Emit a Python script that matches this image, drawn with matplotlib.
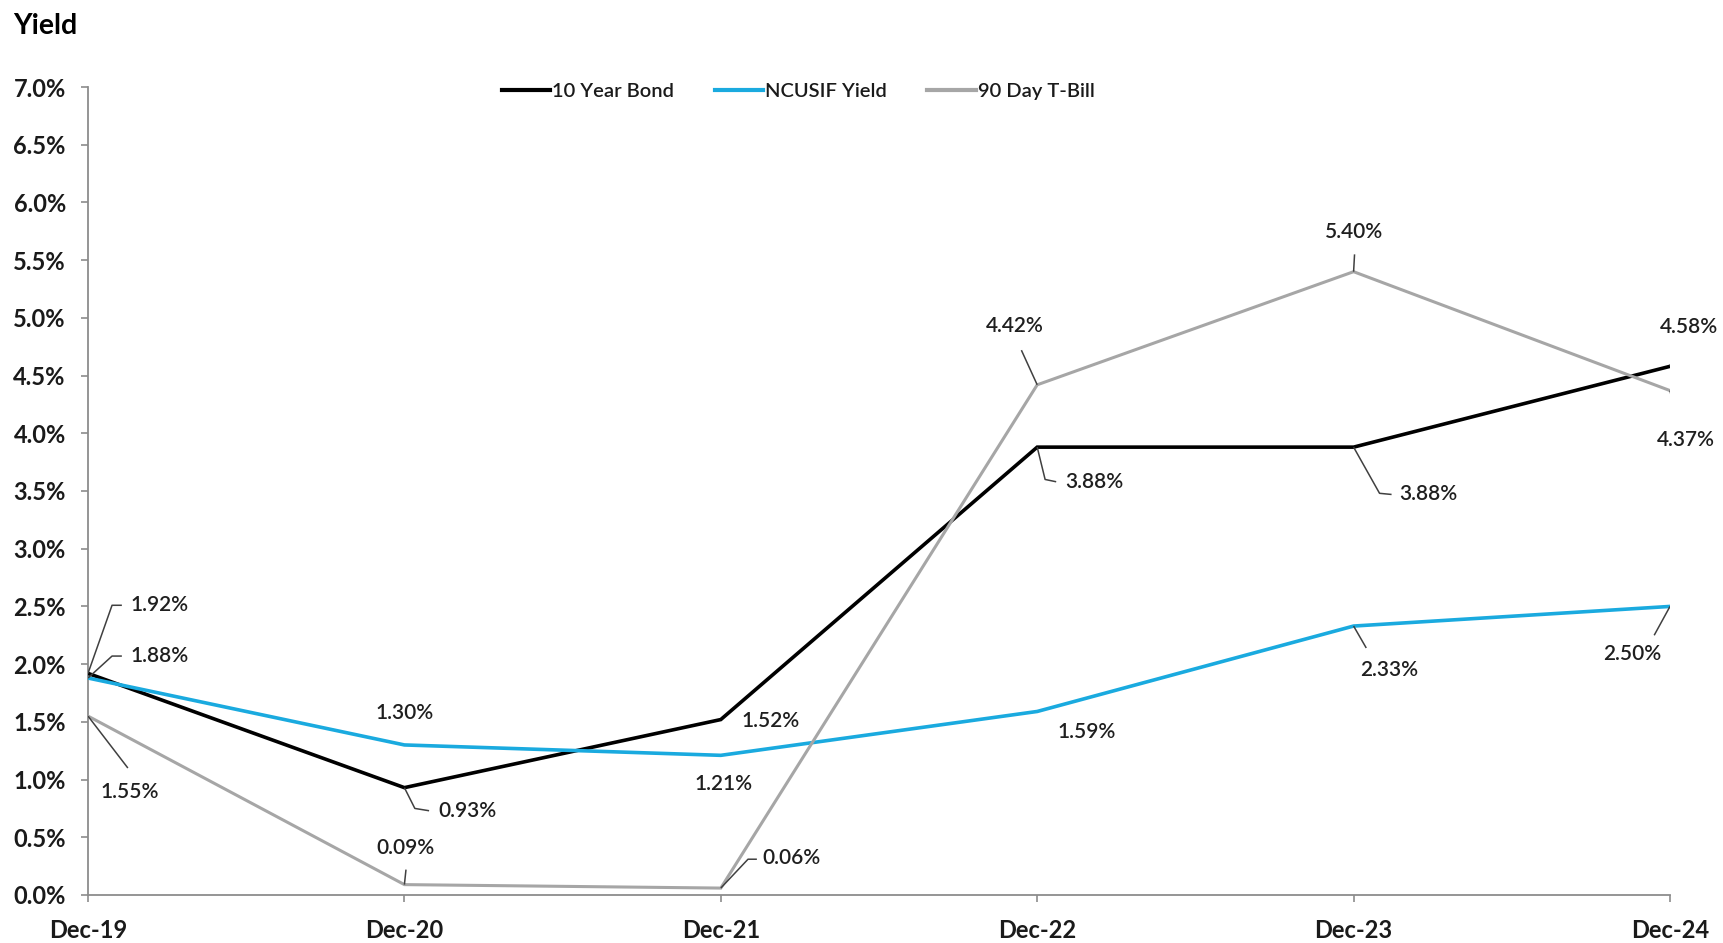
import matplotlib
matplotlib.use("Agg")
import matplotlib.pyplot as plt
from matplotlib.ticker import FuncFormatter, MultipleLocator

plt.rcParams['font.family'] = ['Lato', 'DejaVu Sans']

# ---- data ----
categories = ["Dec-19", "Dec-20", "Dec-21", "Dec-22", "Dec-23", "Dec-24"]
bond_10y = [1.92, 0.93, 1.52, 3.88, 3.88, 4.58]
ncusif = [1.88, 1.30, 1.21, 1.59, 2.33, 2.50]
tbill_90d = [1.55, 0.09, 0.06, 4.42, 5.40, 4.37]
series_names = ["10 Year Bond", "NCUSIF Yield", "90 Day T-Bill"]

# ---- styles ----
colors = ["#000000", "#1AAADF", "#A6A6A6"]
widths = [2.6, 2.6, 2.2]

# label layout per series/point: (text_x_offset, text_y, ha, leader) in data units
# leader: None, or list of knee points given as offsets (dx, y)
layout = [
    [  # 10 Year Bond
        (0.133, 2.51, "left", [(0.076, 2.51), (0.107, 2.51)]),
        (0.108, 0.73, "left", [(0.033, 0.75), (0.078, 0.73)]),
        (0.065, 1.51, "left", None),
        (0.090, 3.58, "left", [(0.025, 3.60), (0.060, 3.58)]),
        (0.145, 3.47, "left", [(0.082, 3.48), (0.120, 3.47)]),
        (0.060, 4.92, "center", [(0.020, 4.75)]),
    ],
    [  # NCUSIF
        (0.133, 2.07, "left", [(0.076, 2.07), (0.107, 2.07)]),
        (0.002, 1.58, "center", None),
        (0.010, 0.96, "center", None),
        (0.157, 1.415, "center", None),
        (0.113, 1.95, "center", [(0.040, 2.14)]),
        (-0.120, 2.09, "center", [(-0.050, 2.25)]),
    ],
    [  # 90 Day T-Bill
        (0.133, 0.89, "center", [(0.126, 1.10)]),
        (0.002, 0.41, "center", [(0.005, 0.22)]),
        (0.131, 0.32, "left", [(0.086, 0.31), (0.114, 0.31)]),
        (-0.070, 4.93, "center", [(-0.050, 4.72)]),
        (0.000, 5.74, "center", [(0.003, 5.55)]),
        (0.050, 3.94, "center", [(0.020, 4.13)]),
    ],
]

W, H = 1723, 943
fig = plt.figure(figsize=(W / 100, H / 100), dpi=100)
left, right, bottom, top = 88 / W, 1670 / W, 1 - 895 / H, 1 - 87 / H
ax = fig.add_axes([left, bottom, right - left, top - bottom])

x = list(range(len(categories)))
all_series = [bond_10y, ncusif, tbill_90d]
for vals, name, c, lw in zip(all_series, series_names, colors, widths):
    ax.plot(x, vals, color=c, lw=lw, label=name, solid_joinstyle="miter", zorder=3)

# data labels with leader lines
for vals, lay in zip(all_series, layout):
    for xi, (v, (tx, ty, ha, leader)) in enumerate(zip(vals, lay)):
        ax.text(xi + tx, ty, f"{v:.2f}%", ha=ha, va="center", fontsize=15,
                fontweight="semibold", color="#1F1F1F", zorder=5)
        if leader:
            lx = [xi] + [xi + d for d, _ in leader]
            ly = [v] + [yy for _, yy in leader]
            ax.plot(lx, ly, color="#404040", lw=1.1, zorder=4, solid_capstyle="butt")

ax.set_xlim(0, len(categories) - 1)
ax.set_ylim(0, 7.0)
ax.yaxis.set_major_locator(MultipleLocator(0.5))
ax.yaxis.set_major_formatter(FuncFormatter(lambda v, p: f"{v:.1f}%"))
ax.set_xticks(x)
ax.set_xticklabels(categories)

for s in ["top", "right"]:
    ax.spines[s].set_visible(False)
for s in ["left", "bottom"]:
    ax.spines[s].set_color("#8C8C8C")
    ax.spines[s].set_linewidth(1.3)
ax.tick_params(axis="both", colors="#8C8C8C", length=5, width=1.2, direction="out")
ax.tick_params(axis="y", labelsize=17, labelcolor="#1A1A1A", pad=11)
ax.tick_params(axis="x", labelsize=17, labelcolor="#1A1A1A", pad=12)
for lbl in ax.get_xticklabels() + ax.get_yticklabels():
    lbl.set_fontweight("bold")

leg = ax.legend(loc="center", bbox_to_anchor=(0.449, 0.995), ncol=3, frameon=False,
                fontsize=14.5, handlelength=2.4, columnspacing=2.0, handletextpad=0.1)
for t in leg.get_texts():
    t.set_color("#1A1A1A")
    t.set_fontweight("semibold")
for h in leg.get_lines():
    h.set_linewidth(3.0)

fig.text(13 / W, 1 - 26 / H, "Yield", fontsize=20.5, fontweight="bold", ha="left",
         va="center", color="#000000")

fig.savefig("out.png", dpi=100, facecolor="white")
